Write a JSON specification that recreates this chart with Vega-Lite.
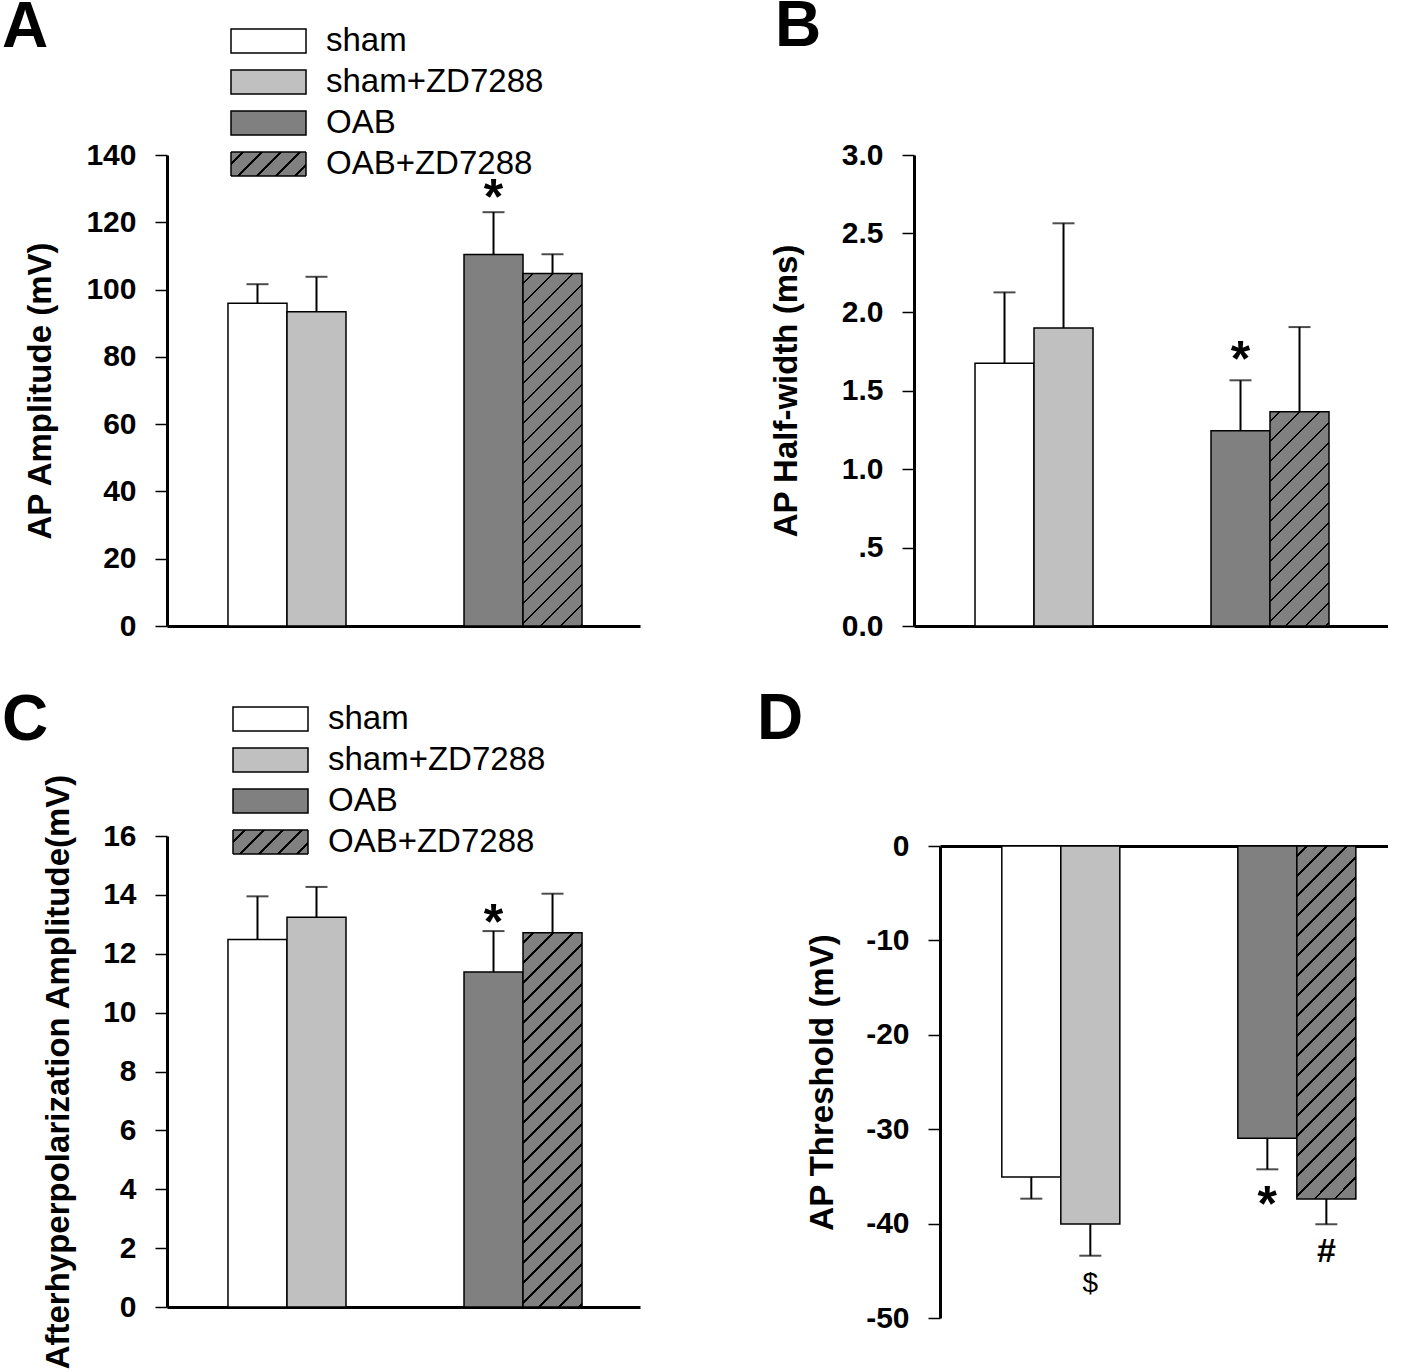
{
  "$schema": "https://vega.github.io/schema/vega-lite/v6.json",
  "background": "white",
  "padding": {"left": 2, "top": -5, "right": 0, "bottom": 0},
  "config": {
    "font": "Liberation Sans",
    "view": {"stroke": null},
    "axis": {"domainColor": "black", "domainWidth": 3, "tickColor": "black", "tickWidth": 1.5, "tickSize": 12, "labelFont": "Liberation Sans", "labelFontSize": 30, "labelFontWeight": "bold", "labelColor": "black", "labelPadding": 19, "titleFont": "Liberation Sans", "titleFontSize": 33, "titleFontWeight": "bold", "titleColor": "black", "grid": false},
    "title": {"font": "Liberation Sans", "fontSize": 64, "fontWeight": "bold", "color": "black", "anchor": "start", "frame": "group"}
  },
  "datasets": {
    "amp": [
      {"group": "sham", "mean": 95.9, "err": 101.6, "sig": ""},
      {"group": "sham+ZD7288", "mean": 93.4, "err": 103.8, "sig": ""},
      {"group": "OAB", "mean": 110.4, "err": 123.0, "sig": "*"},
      {"group": "OAB+ZD7288", "mean": 104.8, "err": 110.5, "sig": ""}
    ],
    "half": [
      {"group": "sham", "mean": 1.673, "err": 2.125, "sig": ""},
      {"group": "sham+ZD7288", "mean": 1.898, "err": 2.565, "sig": ""},
      {"group": "OAB", "mean": 1.244, "err": 1.565, "sig": "*"},
      {"group": "OAB+ZD7288", "mean": 1.365, "err": 1.904, "sig": ""}
    ],
    "ahp": [
      {"group": "sham", "mean": 12.48, "err": 13.95, "sig": ""},
      {"group": "sham+ZD7288", "mean": 13.24, "err": 14.27, "sig": ""},
      {"group": "OAB", "mean": 11.38, "err": 12.77, "sig": "*"},
      {"group": "OAB+ZD7288", "mean": 12.71, "err": 14.04, "sig": ""}
    ],
    "thr": [
      {"group": "sham", "mean": -35.06, "err": -37.36, "sig": ""},
      {"group": "sham+ZD7288", "mean": -40.04, "err": -43.4, "sig": "$"},
      {"group": "OAB", "mean": -30.96, "err": -34.25, "sig": "*"},
      {"group": "OAB+ZD7288", "mean": -37.39, "err": -40.07, "sig": "#"}
    ]
  },
  "columns": 2,
  "bounds": "flush",
  "align": "each",
  "spacing": {"row": 210, "column": 274},
  "resolve": {"scale": {"color": "independent", "strokeDash": "independent", "x": "independent", "y": "independent"}, "legend": {"color": "independent", "strokeDash": "independent"}},
  "concat": [
    {
      "width": 473, "height": 471,
      "title": {"text": "A", "dx": -165, "offset": -35},
      "data": {"name": "amp"},
      "encoding": {"x": {"field": "group", "type": "nominal", "scale": {"domain": ["s1", "sham", "sham+ZD7288", "s2", "s3", "OAB", "OAB+ZD7288"], "paddingInner": 0, "paddingOuter": 0.508, "align": 0.033}, "axis": {"labels": false, "ticks": false, "title": null}}},
      "layer": [
        {
          "mark": {"type": "bar", "stroke": "black", "strokeWidth": 1.5},
          "encoding": {
            "y": {"field": "mean", "type": "quantitative", "scale": {"domain": [0, 140]}, "axis": {"values": [0, 20, 40, 60, 80, 100, 120, 140], "title": "AP Amplitude (mV)", "titlePadding": 28}},
            "color": {
              "condition": {"test": "datum.group === 'OAB+ZD7288'", "value": {"gradient": "linear", "x1": 0, "y1": 0, "x2": 0.19, "y2": 1.1355, "stops": [
                {"offset": 0, "color": "#808080"},
                {"offset": 0.02138, "color": "#808080"}, {"offset": 0.02138, "color": "#000"}, {"offset": 0.02721, "color": "#000"}, {"offset": 0.02721, "color": "#808080"},
                {"offset": 0.06997, "color": "#808080"}, {"offset": 0.06997, "color": "#000"}, {"offset": 0.0758, "color": "#000"}, {"offset": 0.0758, "color": "#808080"},
                {"offset": 0.11856, "color": "#808080"}, {"offset": 0.11856, "color": "#000"}, {"offset": 0.12439, "color": "#000"}, {"offset": 0.12439, "color": "#808080"},
                {"offset": 0.16715, "color": "#808080"}, {"offset": 0.16715, "color": "#000"}, {"offset": 0.17298, "color": "#000"}, {"offset": 0.17298, "color": "#808080"},
                {"offset": 0.21574, "color": "#808080"}, {"offset": 0.21574, "color": "#000"}, {"offset": 0.22157, "color": "#000"}, {"offset": 0.22157, "color": "#808080"},
                {"offset": 0.26433, "color": "#808080"}, {"offset": 0.26433, "color": "#000"}, {"offset": 0.27017, "color": "#000"}, {"offset": 0.27017, "color": "#808080"},
                {"offset": 0.31292, "color": "#808080"}, {"offset": 0.31292, "color": "#000"}, {"offset": 0.31876, "color": "#000"}, {"offset": 0.31876, "color": "#808080"},
                {"offset": 0.36152, "color": "#808080"}, {"offset": 0.36152, "color": "#000"}, {"offset": 0.36735, "color": "#000"}, {"offset": 0.36735, "color": "#808080"},
                {"offset": 0.41011, "color": "#808080"}, {"offset": 0.41011, "color": "#000"}, {"offset": 0.41594, "color": "#000"}, {"offset": 0.41594, "color": "#808080"},
                {"offset": 0.4587, "color": "#808080"}, {"offset": 0.4587, "color": "#000"}, {"offset": 0.46453, "color": "#000"}, {"offset": 0.46453, "color": "#808080"},
                {"offset": 0.50729, "color": "#808080"}, {"offset": 0.50729, "color": "#000"}, {"offset": 0.51312, "color": "#000"}, {"offset": 0.51312, "color": "#808080"},
                {"offset": 0.55588, "color": "#808080"}, {"offset": 0.55588, "color": "#000"}, {"offset": 0.56171, "color": "#000"}, {"offset": 0.56171, "color": "#808080"},
                {"offset": 0.60447, "color": "#808080"}, {"offset": 0.60447, "color": "#000"}, {"offset": 0.6103, "color": "#000"}, {"offset": 0.6103, "color": "#808080"},
                {"offset": 0.65306, "color": "#808080"}, {"offset": 0.65306, "color": "#000"}, {"offset": 0.65889, "color": "#000"}, {"offset": 0.65889, "color": "#808080"},
                {"offset": 0.70165, "color": "#808080"}, {"offset": 0.70165, "color": "#000"}, {"offset": 0.70748, "color": "#000"}, {"offset": 0.70748, "color": "#808080"},
                {"offset": 0.75024, "color": "#808080"}, {"offset": 0.75024, "color": "#000"}, {"offset": 0.75607, "color": "#000"}, {"offset": 0.75607, "color": "#808080"},
                {"offset": 0.79883, "color": "#808080"}, {"offset": 0.79883, "color": "#000"}, {"offset": 0.80466, "color": "#000"}, {"offset": 0.80466, "color": "#808080"},
                {"offset": 0.84742, "color": "#808080"}, {"offset": 0.84742, "color": "#000"}, {"offset": 0.85326, "color": "#000"}, {"offset": 0.85326, "color": "#808080"},
                {"offset": 0.89602, "color": "#808080"}, {"offset": 0.89602, "color": "#000"}, {"offset": 0.90185, "color": "#000"}, {"offset": 0.90185, "color": "#808080"},
                {"offset": 0.94461, "color": "#808080"}, {"offset": 0.94461, "color": "#000"}, {"offset": 0.95044, "color": "#000"}, {"offset": 0.95044, "color": "#808080"},
                {"offset": 0.9932, "color": "#808080"}, {"offset": 0.9932, "color": "#000"}, {"offset": 0.99903, "color": "#000"}, {"offset": 0.99903, "color": "#808080"},
                {"offset": 1, "color": "#808080"}
              ]}},
              "field": "group", "type": "nominal",
              "scale": {"domain": ["sham", "sham+ZD7288", "OAB", "OAB+ZD7288"], "range": ["white", "#c0c0c0", "#808080", "#808080"]},
              "legend": {
                "values": ["sham", "sham+ZD7288", "OAB"],
                "orient": "none", "legendX": 85, "legendY": -130.5, "title": null, "padding": 0,
                "symbolType": "M-3,-0.96H3V0.96H-3Z", "symbolSize": 625, "symbolStrokeColor": "black", "symbolStrokeWidth": 1.5, "symbolOpacity": 1,
                "labelFont": "Liberation Sans", "labelFontSize": 33, "labelColor": "black", "labelOffset": 41, "labelLimit": 0, "rowPadding": 7
              }
            }
          }
        },
        {
          "mark": {"type": "rule", "color": "black", "strokeWidth": 2, "fill": {"gradient": "linear", "x1": 0, "y1": 0, "x2": 1.1974, "y2": 0.3832, "stops": [
            {"offset": 0, "color": "#808080"},
            {"offset": 0.10909, "color": "#808080"}, {"offset": 0.10909, "color": "#000"}, {"offset": 0.13333, "color": "#000"}, {"offset": 0.13333, "color": "#808080"},
            {"offset": 0.30101, "color": "#808080"}, {"offset": 0.30101, "color": "#000"}, {"offset": 0.32525, "color": "#000"}, {"offset": 0.32525, "color": "#808080"},
            {"offset": 0.49293, "color": "#808080"}, {"offset": 0.49293, "color": "#000"}, {"offset": 0.51717, "color": "#000"}, {"offset": 0.51717, "color": "#808080"},
            {"offset": 0.68485, "color": "#808080"}, {"offset": 0.68485, "color": "#000"}, {"offset": 0.70909, "color": "#000"}, {"offset": 0.70909, "color": "#808080"},
            {"offset": 0.87677, "color": "#808080"}, {"offset": 0.87677, "color": "#000"}, {"offset": 0.90101, "color": "#000"}, {"offset": 0.90101, "color": "#808080"},
            {"offset": 1, "color": "#808080"}
          ]}},
          "encoding": {
            "y": {"field": "mean", "type": "quantitative", "scale": {"domain": [0, 140]}},
            "y2": {"field": "err"},
            "strokeDash": {"field": "group", "type": "nominal", "scale": {"domain": ["OAB+ZD7288"], "range": [[1, 0]]},
              "legend": {"orient": "none", "legendX": 85, "legendY": -7.5, "title": null, "padding": 0,
                "symbolType": "M-3,-0.96H3V0.96H-3Z", "symbolSize": 625, "symbolOpacity": 1,
                "labelFont": "Liberation Sans", "labelFontSize": 33, "labelColor": "black", "labelOffset": 41, "labelLimit": 0}}
          }
        },
        {"mark": {"type": "tick", "color": "black", "thickness": 2, "size": 22}, "encoding": {"y": {"field": "err", "type": "quantitative", "scale": {"domain": [0, 140]}}}},
        {"transform": [{"filter": "datum.sig === '*'"}], "mark": {"type": "text", "fontSize": 50, "fontWeight": "bold", "color": "black", "baseline": "alphabetic", "dy": 1.7}, "encoding": {"y": {"field": "err", "type": "quantitative", "scale": {"domain": [0, 140]}}, "text": {"field": "sig"}}}
      ]
    },
    {
      "width": 474, "height": 471,
      "title": {"text": "B", "dx": -139, "offset": 80.6},
      "data": {"name": "half"},
      "encoding": {"x": {"field": "group", "type": "nominal", "scale": {"domain": ["s1", "sham", "sham+ZD7288", "s2", "s3", "OAB", "OAB+ZD7288"], "paddingInner": 0, "paddingOuter": 0.517, "align": 0.033}, "axis": {"labels": false, "ticks": false, "title": null}}},
      "layer": [
        {
          "mark": {"type": "bar", "stroke": "black", "strokeWidth": 1.5},
          "encoding": {
            "y": {"field": "mean", "type": "quantitative", "scale": {"domain": [0, 3]}, "axis": {"values": [0, 0.5, 1, 1.5, 2, 2.5, 3], "labelExpr": "datum.value === 0.5 ? '.5' : format(datum.value, '.1f')", "title": "AP Half-width (ms)", "titlePadding": 38}},
            "color": {
              "condition": {"test": "datum.group === 'OAB+ZD7288'", "value": {"gradient": "linear", "x1": 0, "y1": 0, "x2": 0.3264, "y2": 1.1855, "stops": [
                {"offset": 0, "color": "#808080"},
                {"offset": 0.0322, "color": "#808080"}, {"offset": 0.0322, "color": "#000"}, {"offset": 0.04098, "color": "#000"}, {"offset": 0.04098, "color": "#808080"},
                {"offset": 0.10538, "color": "#808080"}, {"offset": 0.10538, "color": "#000"}, {"offset": 0.11416, "color": "#000"}, {"offset": 0.11416, "color": "#808080"},
                {"offset": 0.17856, "color": "#808080"}, {"offset": 0.17856, "color": "#000"}, {"offset": 0.18734, "color": "#000"}, {"offset": 0.18734, "color": "#808080"},
                {"offset": 0.25174, "color": "#808080"}, {"offset": 0.25174, "color": "#000"}, {"offset": 0.26052, "color": "#000"}, {"offset": 0.26052, "color": "#808080"},
                {"offset": 0.32492, "color": "#808080"}, {"offset": 0.32492, "color": "#000"}, {"offset": 0.3337, "color": "#000"}, {"offset": 0.3337, "color": "#808080"},
                {"offset": 0.3981, "color": "#808080"}, {"offset": 0.3981, "color": "#000"}, {"offset": 0.40688, "color": "#000"}, {"offset": 0.40688, "color": "#808080"},
                {"offset": 0.47128, "color": "#808080"}, {"offset": 0.47128, "color": "#000"}, {"offset": 0.48006, "color": "#000"}, {"offset": 0.48006, "color": "#808080"},
                {"offset": 0.54446, "color": "#808080"}, {"offset": 0.54446, "color": "#000"}, {"offset": 0.55324, "color": "#000"}, {"offset": 0.55324, "color": "#808080"},
                {"offset": 0.61764, "color": "#808080"}, {"offset": 0.61764, "color": "#000"}, {"offset": 0.62642, "color": "#000"}, {"offset": 0.62642, "color": "#808080"},
                {"offset": 0.69082, "color": "#808080"}, {"offset": 0.69082, "color": "#000"}, {"offset": 0.6996, "color": "#000"}, {"offset": 0.6996, "color": "#808080"},
                {"offset": 0.764, "color": "#808080"}, {"offset": 0.764, "color": "#000"}, {"offset": 0.77278, "color": "#000"}, {"offset": 0.77278, "color": "#808080"},
                {"offset": 0.83718, "color": "#808080"}, {"offset": 0.83718, "color": "#000"}, {"offset": 0.84596, "color": "#000"}, {"offset": 0.84596, "color": "#808080"},
                {"offset": 0.91036, "color": "#808080"}, {"offset": 0.91036, "color": "#000"}, {"offset": 0.91914, "color": "#000"}, {"offset": 0.91914, "color": "#808080"},
                {"offset": 0.98354, "color": "#808080"}, {"offset": 0.98354, "color": "#000"}, {"offset": 0.99232, "color": "#000"}, {"offset": 0.99232, "color": "#808080"},
                {"offset": 1, "color": "#808080"}
              ]}},
              "field": "group", "type": "nominal",
              "scale": {"domain": ["sham", "sham+ZD7288", "OAB", "OAB+ZD7288"], "range": ["white", "#c0c0c0", "#808080", "#808080"]},
              "legend": null
            }
          }
        },
        {"mark": {"type": "rule", "color": "black", "strokeWidth": 2}, "encoding": {"y": {"field": "mean", "type": "quantitative", "scale": {"domain": [0, 3]}}, "y2": {"field": "err"}}},
        {"mark": {"type": "tick", "color": "black", "thickness": 2, "size": 22}, "encoding": {"y": {"field": "err", "type": "quantitative", "scale": {"domain": [0, 3]}}}},
        {"transform": [{"filter": "datum.sig === '*'"}], "mark": {"type": "text", "fontSize": 50, "fontWeight": "bold", "color": "black", "baseline": "alphabetic", "dy": -4.3}, "encoding": {"y": {"field": "err", "type": "quantitative", "scale": {"domain": [0, 3]}}, "text": {"field": "sig"}}}
      ]
    },
    {
      "width": 473, "height": 471,
      "title": {"text": "C", "dx": -165, "offset": -50},
      "data": {"name": "ahp"},
      "encoding": {"x": {"field": "group", "type": "nominal", "scale": {"domain": ["s1", "sham", "sham+ZD7288", "s2", "s3", "OAB", "OAB+ZD7288"], "paddingInner": 0, "paddingOuter": 0.508, "align": 0.033}, "axis": {"labels": false, "ticks": false, "title": null}}},
      "layer": [
        {
          "mark": {"type": "bar", "stroke": "black", "strokeWidth": 1.5},
          "encoding": {
            "y": {"field": "mean", "type": "quantitative", "scale": {"domain": [0, 16]}, "axis": {"values": [0, 2, 4, 6, 8, 10, 12, 14, 16], "title": "Afterhyperpolarization Amplitude(mV)", "titlePadding": 27}},
            "color": {
              "condition": {"test": "datum.group === 'OAB+ZD7288'", "value": {"gradient": "linear", "x1": 0, "y1": 0, "x2": 0.1781, "y2": 1.1296, "stops": [
                {"offset": 0, "color": "#808080"},
                {"offset": 0.02031, "color": "#808080"}, {"offset": 0.02031, "color": "#000"}, {"offset": 0.02585, "color": "#000"}, {"offset": 0.02585, "color": "#808080"},
                {"offset": 0.06648, "color": "#808080"}, {"offset": 0.06648, "color": "#000"}, {"offset": 0.07202, "color": "#000"}, {"offset": 0.07202, "color": "#808080"},
                {"offset": 0.11265, "color": "#808080"}, {"offset": 0.11265, "color": "#000"}, {"offset": 0.11819, "color": "#000"}, {"offset": 0.11819, "color": "#808080"},
                {"offset": 0.15882, "color": "#808080"}, {"offset": 0.15882, "color": "#000"}, {"offset": 0.16436, "color": "#000"}, {"offset": 0.16436, "color": "#808080"},
                {"offset": 0.20499, "color": "#808080"}, {"offset": 0.20499, "color": "#000"}, {"offset": 0.21053, "color": "#000"}, {"offset": 0.21053, "color": "#808080"},
                {"offset": 0.25115, "color": "#808080"}, {"offset": 0.25115, "color": "#000"}, {"offset": 0.25669, "color": "#000"}, {"offset": 0.25669, "color": "#808080"},
                {"offset": 0.29732, "color": "#808080"}, {"offset": 0.29732, "color": "#000"}, {"offset": 0.30286, "color": "#000"}, {"offset": 0.30286, "color": "#808080"},
                {"offset": 0.34349, "color": "#808080"}, {"offset": 0.34349, "color": "#000"}, {"offset": 0.34903, "color": "#000"}, {"offset": 0.34903, "color": "#808080"},
                {"offset": 0.38966, "color": "#808080"}, {"offset": 0.38966, "color": "#000"}, {"offset": 0.3952, "color": "#000"}, {"offset": 0.3952, "color": "#808080"},
                {"offset": 0.43583, "color": "#808080"}, {"offset": 0.43583, "color": "#000"}, {"offset": 0.44137, "color": "#000"}, {"offset": 0.44137, "color": "#808080"},
                {"offset": 0.482, "color": "#808080"}, {"offset": 0.482, "color": "#000"}, {"offset": 0.48754, "color": "#000"}, {"offset": 0.48754, "color": "#808080"},
                {"offset": 0.52816, "color": "#808080"}, {"offset": 0.52816, "color": "#000"}, {"offset": 0.5337, "color": "#000"}, {"offset": 0.5337, "color": "#808080"},
                {"offset": 0.57433, "color": "#808080"}, {"offset": 0.57433, "color": "#000"}, {"offset": 0.57987, "color": "#000"}, {"offset": 0.57987, "color": "#808080"},
                {"offset": 0.6205, "color": "#808080"}, {"offset": 0.6205, "color": "#000"}, {"offset": 0.62604, "color": "#000"}, {"offset": 0.62604, "color": "#808080"},
                {"offset": 0.66667, "color": "#808080"}, {"offset": 0.66667, "color": "#000"}, {"offset": 0.67221, "color": "#000"}, {"offset": 0.67221, "color": "#808080"},
                {"offset": 0.71284, "color": "#808080"}, {"offset": 0.71284, "color": "#000"}, {"offset": 0.71838, "color": "#000"}, {"offset": 0.71838, "color": "#808080"},
                {"offset": 0.75901, "color": "#808080"}, {"offset": 0.75901, "color": "#000"}, {"offset": 0.76455, "color": "#000"}, {"offset": 0.76455, "color": "#808080"},
                {"offset": 0.80517, "color": "#808080"}, {"offset": 0.80517, "color": "#000"}, {"offset": 0.81071, "color": "#000"}, {"offset": 0.81071, "color": "#808080"},
                {"offset": 0.85134, "color": "#808080"}, {"offset": 0.85134, "color": "#000"}, {"offset": 0.85688, "color": "#000"}, {"offset": 0.85688, "color": "#808080"},
                {"offset": 0.89751, "color": "#808080"}, {"offset": 0.89751, "color": "#000"}, {"offset": 0.90305, "color": "#000"}, {"offset": 0.90305, "color": "#808080"},
                {"offset": 0.94368, "color": "#808080"}, {"offset": 0.94368, "color": "#000"}, {"offset": 0.94922, "color": "#000"}, {"offset": 0.94922, "color": "#808080"},
                {"offset": 0.98985, "color": "#808080"}, {"offset": 0.98985, "color": "#000"}, {"offset": 0.99539, "color": "#000"}, {"offset": 0.99539, "color": "#808080"},
                {"offset": 1, "color": "#808080"}
              ]}},
              "field": "group", "type": "nominal",
              "scale": {"domain": ["sham", "sham+ZD7288", "OAB", "OAB+ZD7288"], "range": ["white", "#c0c0c0", "#808080", "#808080"]},
              "legend": {
                "values": ["sham", "sham+ZD7288", "OAB"],
                "orient": "none", "legendX": 87, "legendY": -133.5, "title": null, "padding": 0,
                "symbolType": "M-3,-0.96H3V0.96H-3Z", "symbolSize": 625, "symbolStrokeColor": "black", "symbolStrokeWidth": 1.5, "symbolOpacity": 1,
                "labelFont": "Liberation Sans", "labelFontSize": 33, "labelColor": "black", "labelOffset": 41, "labelLimit": 0, "rowPadding": 7
              }
            }
          }
        },
        {
          "mark": {"type": "rule", "color": "black", "strokeWidth": 2, "fill": {"gradient": "linear", "x1": 0, "y1": 0, "x2": 1.1974, "y2": 0.3832, "stops": [
            {"offset": 0, "color": "#808080"},
            {"offset": 0.10909, "color": "#808080"}, {"offset": 0.10909, "color": "#000"}, {"offset": 0.13333, "color": "#000"}, {"offset": 0.13333, "color": "#808080"},
            {"offset": 0.30101, "color": "#808080"}, {"offset": 0.30101, "color": "#000"}, {"offset": 0.32525, "color": "#000"}, {"offset": 0.32525, "color": "#808080"},
            {"offset": 0.49293, "color": "#808080"}, {"offset": 0.49293, "color": "#000"}, {"offset": 0.51717, "color": "#000"}, {"offset": 0.51717, "color": "#808080"},
            {"offset": 0.68485, "color": "#808080"}, {"offset": 0.68485, "color": "#000"}, {"offset": 0.70909, "color": "#000"}, {"offset": 0.70909, "color": "#808080"},
            {"offset": 0.87677, "color": "#808080"}, {"offset": 0.87677, "color": "#000"}, {"offset": 0.90101, "color": "#000"}, {"offset": 0.90101, "color": "#808080"},
            {"offset": 1, "color": "#808080"}
          ]}},
          "encoding": {
            "y": {"field": "mean", "type": "quantitative", "scale": {"domain": [0, 16]}},
            "y2": {"field": "err"},
            "strokeDash": {"field": "group", "type": "nominal", "scale": {"domain": ["OAB+ZD7288"], "range": [[1, 0]]},
              "legend": {"orient": "none", "legendX": 87, "legendY": -10.5, "title": null, "padding": 0,
                "symbolType": "M-3,-0.96H3V0.96H-3Z", "symbolSize": 625, "symbolOpacity": 1,
                "labelFont": "Liberation Sans", "labelFontSize": 33, "labelColor": "black", "labelOffset": 41, "labelLimit": 0}}
          }
        },
        {"mark": {"type": "tick", "color": "black", "thickness": 2, "size": 22}, "encoding": {"y": {"field": "err", "type": "quantitative", "scale": {"domain": [0, 16]}}}},
        {"transform": [{"filter": "datum.sig === '*'"}], "mark": {"type": "text", "fontSize": 50, "fontWeight": "bold", "color": "black", "baseline": "alphabetic", "dy": 8}, "encoding": {"y": {"field": "err", "type": "quantitative", "scale": {"domain": [0, 16]}}, "text": {"field": "sig"}}}
      ]
    },
    {
      "width": 474, "height": 482,
      "title": {"text": "D", "dx": -157, "offset": 78.6},
      "data": {"name": "thr"},
      "encoding": {"x": {"field": "group", "type": "nominal", "scale": {"domain": ["s1", "sham", "sham+ZD7288", "s2", "s3", "OAB", "OAB+ZD7288"], "range": [26, 474], "paddingInner": 0, "paddingOuter": 0.296, "align": 0.08}, "axis": {"orient": "top", "labels": false, "ticks": false, "title": null, "offset": -10}}},
      "layer": [
        {
          "mark": {"type": "bar", "stroke": "black", "strokeWidth": 1.5},
          "encoding": {
            "y": {"field": "mean", "type": "quantitative", "scale": {"domain": [-50, 0], "range": [482, 10]}, "axis": {"values": [-50, -40, -30, -20, -10, 0], "labelExpr": "'' + datum.value", "offset": -26, "title": "AP Threshold (mV)", "titlePadding": 26}},
            "color": {
              "condition": {"test": "datum.group === 'OAB+ZD7288'", "value": {"gradient": "linear", "x1": 0, "y1": 0, "x2": 0.19, "y2": 1.1355, "stops": [
                {"offset": 0, "color": "#808080"},
                {"offset": 0.02138, "color": "#808080"}, {"offset": 0.02138, "color": "#000"}, {"offset": 0.02721, "color": "#000"}, {"offset": 0.02721, "color": "#808080"},
                {"offset": 0.06997, "color": "#808080"}, {"offset": 0.06997, "color": "#000"}, {"offset": 0.0758, "color": "#000"}, {"offset": 0.0758, "color": "#808080"},
                {"offset": 0.11856, "color": "#808080"}, {"offset": 0.11856, "color": "#000"}, {"offset": 0.12439, "color": "#000"}, {"offset": 0.12439, "color": "#808080"},
                {"offset": 0.16715, "color": "#808080"}, {"offset": 0.16715, "color": "#000"}, {"offset": 0.17298, "color": "#000"}, {"offset": 0.17298, "color": "#808080"},
                {"offset": 0.21574, "color": "#808080"}, {"offset": 0.21574, "color": "#000"}, {"offset": 0.22157, "color": "#000"}, {"offset": 0.22157, "color": "#808080"},
                {"offset": 0.26433, "color": "#808080"}, {"offset": 0.26433, "color": "#000"}, {"offset": 0.27017, "color": "#000"}, {"offset": 0.27017, "color": "#808080"},
                {"offset": 0.31292, "color": "#808080"}, {"offset": 0.31292, "color": "#000"}, {"offset": 0.31876, "color": "#000"}, {"offset": 0.31876, "color": "#808080"},
                {"offset": 0.36152, "color": "#808080"}, {"offset": 0.36152, "color": "#000"}, {"offset": 0.36735, "color": "#000"}, {"offset": 0.36735, "color": "#808080"},
                {"offset": 0.41011, "color": "#808080"}, {"offset": 0.41011, "color": "#000"}, {"offset": 0.41594, "color": "#000"}, {"offset": 0.41594, "color": "#808080"},
                {"offset": 0.4587, "color": "#808080"}, {"offset": 0.4587, "color": "#000"}, {"offset": 0.46453, "color": "#000"}, {"offset": 0.46453, "color": "#808080"},
                {"offset": 0.50729, "color": "#808080"}, {"offset": 0.50729, "color": "#000"}, {"offset": 0.51312, "color": "#000"}, {"offset": 0.51312, "color": "#808080"},
                {"offset": 0.55588, "color": "#808080"}, {"offset": 0.55588, "color": "#000"}, {"offset": 0.56171, "color": "#000"}, {"offset": 0.56171, "color": "#808080"},
                {"offset": 0.60447, "color": "#808080"}, {"offset": 0.60447, "color": "#000"}, {"offset": 0.6103, "color": "#000"}, {"offset": 0.6103, "color": "#808080"},
                {"offset": 0.65306, "color": "#808080"}, {"offset": 0.65306, "color": "#000"}, {"offset": 0.65889, "color": "#000"}, {"offset": 0.65889, "color": "#808080"},
                {"offset": 0.70165, "color": "#808080"}, {"offset": 0.70165, "color": "#000"}, {"offset": 0.70748, "color": "#000"}, {"offset": 0.70748, "color": "#808080"},
                {"offset": 0.75024, "color": "#808080"}, {"offset": 0.75024, "color": "#000"}, {"offset": 0.75607, "color": "#000"}, {"offset": 0.75607, "color": "#808080"},
                {"offset": 0.79883, "color": "#808080"}, {"offset": 0.79883, "color": "#000"}, {"offset": 0.80466, "color": "#000"}, {"offset": 0.80466, "color": "#808080"},
                {"offset": 0.84742, "color": "#808080"}, {"offset": 0.84742, "color": "#000"}, {"offset": 0.85326, "color": "#000"}, {"offset": 0.85326, "color": "#808080"},
                {"offset": 0.89602, "color": "#808080"}, {"offset": 0.89602, "color": "#000"}, {"offset": 0.90185, "color": "#000"}, {"offset": 0.90185, "color": "#808080"},
                {"offset": 0.94461, "color": "#808080"}, {"offset": 0.94461, "color": "#000"}, {"offset": 0.95044, "color": "#000"}, {"offset": 0.95044, "color": "#808080"},
                {"offset": 0.9932, "color": "#808080"}, {"offset": 0.9932, "color": "#000"}, {"offset": 0.99903, "color": "#000"}, {"offset": 0.99903, "color": "#808080"},
                {"offset": 1, "color": "#808080"}
              ]}},
              "field": "group", "type": "nominal",
              "scale": {"domain": ["sham", "sham+ZD7288", "OAB", "OAB+ZD7288"], "range": ["white", "#c0c0c0", "#808080", "#808080"]},
              "legend": null
            }
          }
        },
        {"mark": {"type": "rule", "color": "black", "strokeWidth": 2}, "encoding": {"y": {"field": "mean", "type": "quantitative", "scale": {"domain": [-50, 0], "range": [482, 10]}}, "y2": {"field": "err"}}},
        {"mark": {"type": "tick", "color": "black", "thickness": 2, "size": 22}, "encoding": {"y": {"field": "err", "type": "quantitative", "scale": {"domain": [-50, 0], "range": [482, 10]}}}},
        {"transform": [{"filter": "datum.sig === '*'"}], "mark": {"type": "text", "fontSize": 50, "fontWeight": "bold", "color": "black", "baseline": "alphabetic", "dy": 51.7}, "encoding": {"y": {"field": "err", "type": "quantitative", "scale": {"domain": [-50, 0], "range": [482, 10]}}, "text": {"field": "sig"}}},
        {"transform": [{"filter": "datum.sig === '#'"}], "mark": {"type": "text", "fontSize": 34, "fontWeight": "bold", "color": "black", "baseline": "alphabetic", "dy": 37.7}, "encoding": {"y": {"field": "err", "type": "quantitative", "scale": {"domain": [-50, 0], "range": [482, 10]}}, "text": {"field": "sig"}}},
        {"transform": [{"filter": "datum.sig === '$'"}], "mark": {"type": "text", "fontSize": 28, "fontWeight": "normal", "color": "black", "baseline": "alphabetic", "dy": 36}, "encoding": {"y": {"field": "err", "type": "quantitative", "scale": {"domain": [-50, 0], "range": [482, 10]}}, "text": {"field": "sig"}}}
      ]
    }
  ]
}
